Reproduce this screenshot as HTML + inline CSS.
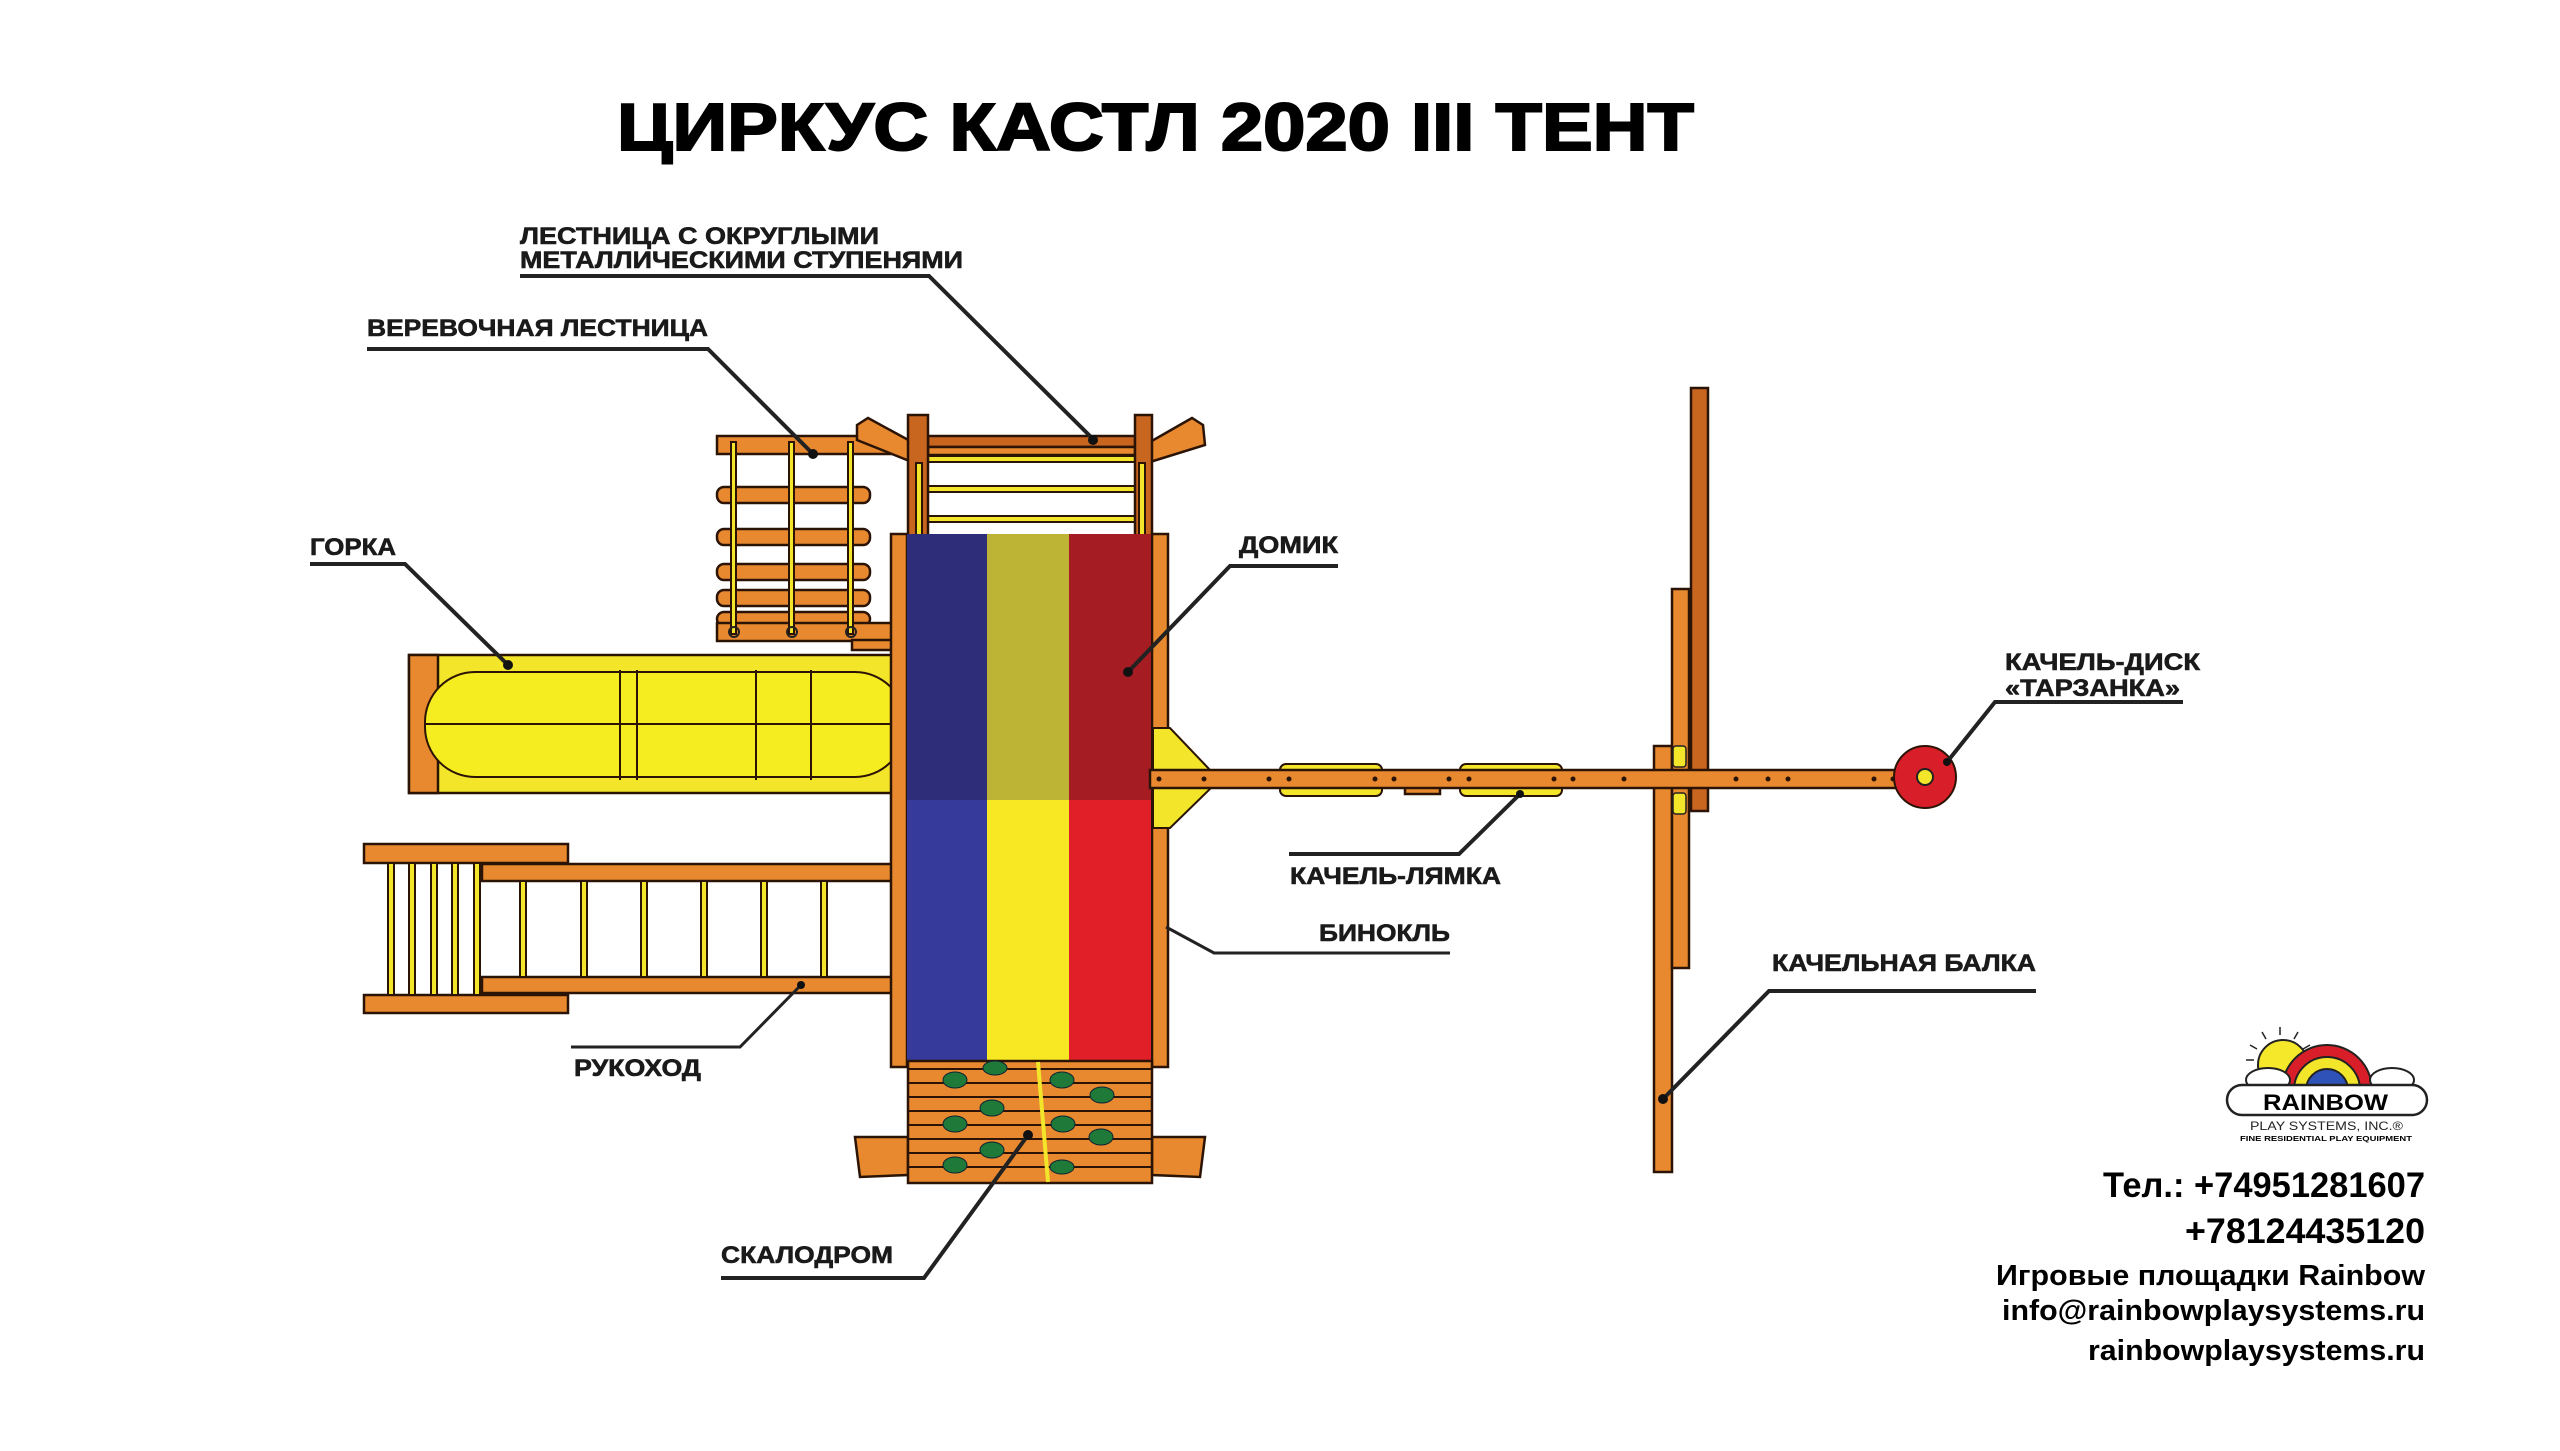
<!DOCTYPE html>
<html><head><meta charset="utf-8"><style>
html,body{margin:0;padding:0;background:#fff;}
svg{display:block;}
.lb{font-family:"Liberation Sans",sans-serif;font-weight:bold;font-size:24px;fill:#1a1a1a;stroke:#1a1a1a;stroke-width:0.6;}
.ct{font-family:"Liberation Sans",sans-serif;font-weight:bold;fill:#000;}
.w{fill:#e8892f;stroke:#2b1405;stroke-width:2.5;}
.wd{fill:#c8651e;stroke:#2b1405;stroke-width:2.5;}
.y{fill:#f2e52a;stroke:#2b1405;stroke-width:2;}
.ll{fill:none;stroke:#222;stroke-width:4;}
</style></head><body>
<svg width="2560" height="1451" viewBox="0 0 2560 1451" xmlns="http://www.w3.org/2000/svg">
<rect width="2560" height="1451" fill="#fff"/>
<!-- Title -->
<text x="617" y="150" class="ct" font-size="67" stroke="#000" stroke-width="2" textLength="1077" lengthAdjust="spacingAndGlyphs">ЦИРКУС КАСТЛ 2020 III ТЕНТ</text>

<!-- top ladder area -->
<rect x="717" y="436" width="180" height="18" class="w"/>
<rect x="928" y="436" width="207" height="11" class="wd"/>
<rect x="928" y="447" width="207" height="8" class="w"/>
<rect x="928" y="456" width="207" height="6" class="y"/>
<rect x="928" y="486" width="207" height="6" class="y"/>
<rect x="928" y="516" width="207" height="6" class="y"/>
<polygon points="857,425 868,418 912,442 912,462 857,440" class="w"/>
<polygon points="1203,425 1192,418 1150,442 1150,462 1205,445" class="w"/>
<rect x="908" y="415" width="20" height="125" class="wd"/>
<rect x="1135" y="415" width="17" height="125" class="wd"/>
<rect x="916" y="463" width="6" height="72" class="y"/>
<rect x="1139" y="463" width="6" height="72" class="y"/>

<!-- rope ladder -->
<rect x="717" y="487" width="153" height="16" rx="7" class="w"/>
<rect x="717" y="529" width="153" height="16" rx="7" class="w"/>
<rect x="717" y="564" width="153" height="16" rx="7" class="w"/>
<rect x="717" y="590" width="153" height="16" rx="7" class="w"/>
<rect x="717" y="612" width="153" height="14" rx="7" class="w"/>
<rect x="717" y="623" width="175" height="18" class="w"/>
<rect x="852" y="640" width="40" height="10" class="w"/>
<rect x="731" y="442" width="5" height="192" class="y"/>
<rect x="789" y="442" width="5" height="192" class="y"/>
<rect x="848" y="442" width="5" height="192" class="y"/>
<g fill="none" stroke="#222" stroke-width="2">
<circle cx="734" cy="632" r="5"/><circle cx="792" cy="632" r="5"/><circle cx="851" cy="632" r="5"/>
</g>

<!-- slide -->
<rect x="409" y="655" width="483" height="138" fill="#f2e52a" stroke="#2b1405" stroke-width="2.5"/>
<rect x="409" y="655" width="29" height="138" class="w"/>
<rect x="425" y="672" width="480" height="105" rx="50" fill="#f5ed1f" stroke="#2b1405" stroke-width="2"/>
<line x1="425" y1="724" x2="892" y2="724" stroke="#2b1405" stroke-width="2"/>
<g stroke="#2b1405" stroke-width="2">
<line x1="620" y1="670" x2="620" y2="780"/><line x1="637" y1="670" x2="637" y2="780"/>
<line x1="756" y1="670" x2="756" y2="780"/><line x1="811" y1="670" x2="811" y2="780"/>
</g>

<!-- monkey bars -->
<rect x="364" y="844" width="204" height="19" class="w"/>
<rect x="364" y="995" width="204" height="18" class="w"/>
<rect x="482" y="864" width="410" height="17" class="w"/>
<rect x="482" y="977" width="410" height="16" class="w"/>
<g class="y">
<rect x="388" y="863" width="6" height="132"/><rect x="409" y="863" width="6" height="132"/><rect x="431" y="863" width="6" height="132"/><rect x="452" y="863" width="6" height="132"/><rect x="474" y="863" width="6" height="132"/>
<rect x="520" y="881" width="6" height="96"/><rect x="581" y="881" width="6" height="96"/><rect x="641" y="881" width="6" height="96"/><rect x="701" y="881" width="6" height="96"/><rect x="761" y="881" width="6" height="96"/><rect x="821" y="881" width="6" height="96"/>
</g>
<rect x="892" y="868" width="13" height="22" fill="#2c4bd0"/>

<!-- house frame -->
<rect x="891" y="534" width="16" height="533" class="w"/>
<rect x="1152" y="534" width="16" height="533" class="w"/>
<rect x="907" y="534" width="80" height="266" fill="#2e2d7a"/>
<rect x="987" y="534" width="82" height="266" fill="#bdb334"/>
<rect x="1069" y="534" width="82" height="266" fill="#a51d22"/>
<rect x="907" y="800" width="80" height="261" fill="#363a9a"/>
<rect x="987" y="800" width="82" height="261" fill="#f7e823"/>
<rect x="1069" y="800" width="82" height="261" fill="#e01f28"/>

<!-- climbing wall -->
<polygon points="855,1137 908,1137 908,1175 860,1177" class="w"/>
<polygon points="1205,1137 1152,1137 1152,1175 1200,1177" class="w"/>
<rect x="908" y="1061" width="244" height="122" class="w"/>
<g stroke="#2b1405" stroke-width="2">
<line x1="908" y1="1069" x2="1152" y2="1069"/><line x1="908" y1="1083" x2="1152" y2="1083"/><line x1="908" y1="1097" x2="1152" y2="1097"/><line x1="908" y1="1111" x2="1152" y2="1111"/><line x1="908" y1="1125" x2="1152" y2="1125"/><line x1="908" y1="1139" x2="1152" y2="1139"/><line x1="908" y1="1153" x2="1152" y2="1153"/><line x1="908" y1="1167" x2="1152" y2="1167"/>
</g>
<g fill="#1f7a3a" stroke="#123" stroke-width="1">
<ellipse cx="955" cy="1080" rx="12" ry="8"/><ellipse cx="995" cy="1068" rx="12" ry="7"/><ellipse cx="1062" cy="1080" rx="12" ry="8"/><ellipse cx="1102" cy="1095" rx="12" ry="8"/>
<ellipse cx="992" cy="1108" rx="12" ry="8"/><ellipse cx="955" cy="1124" rx="12" ry="8"/><ellipse cx="1063" cy="1124" rx="12" ry="8"/><ellipse cx="1101" cy="1137" rx="12" ry="8"/>
<ellipse cx="992" cy="1150" rx="12" ry="8"/><ellipse cx="955" cy="1165" rx="12" ry="8"/><ellipse cx="1062" cy="1167" rx="12" ry="7"/>
</g>
<line x1="1038" y1="1062" x2="1048" y2="1182" stroke="#f2e52a" stroke-width="4"/>

<!-- swing beam + bracket -->
<polygon points="1153,728 1170,728 1211,771 1211,788 1170,828 1153,828" fill="#f2e52a" stroke="#2b1405" stroke-width="2"/>
<rect x="1280" y="764" width="102" height="32" rx="6" class="y"/>
<rect x="1460" y="764" width="102" height="32" rx="6" class="y"/>
<rect x="1405" y="786" width="35" height="8" class="w"/>
<rect x="1654" y="746" width="18" height="426" class="w"/>
<rect x="1672" y="589" width="17" height="379" class="w"/>
<rect x="1691" y="388" width="17" height="423" class="wd"/>
<rect x="1150" y="770" width="791" height="18" class="w"/>
<rect x="1673" y="746" width="13" height="21" rx="3" fill="#f2e52a" stroke="#222" stroke-width="1.5"/>
<rect x="1673" y="793" width="13" height="21" rx="3" fill="#f2e52a" stroke="#222" stroke-width="1.5"/>
<g fill="#2b1405">
<circle cx="1159" cy="779" r="2.5"/><circle cx="1204" cy="779" r="2.5"/><circle cx="1269" cy="779" r="2.5"/><circle cx="1289" cy="779" r="2.5"/><circle cx="1375" cy="779" r="2.5"/><circle cx="1394" cy="779" r="2.5"/><circle cx="1449" cy="779" r="2.5"/><circle cx="1469" cy="779" r="2.5"/><circle cx="1554" cy="779" r="2.5"/><circle cx="1573" cy="779" r="2.5"/><circle cx="1624" cy="779" r="2.5"/><circle cx="1736" cy="779" r="2.5"/><circle cx="1768" cy="779" r="2.5"/><circle cx="1788" cy="779" r="2.5"/><circle cx="1874" cy="779" r="2.5"/><circle cx="1893" cy="779" r="2.5"/>
</g>
<circle cx="1925" cy="777" r="31" fill="#d81e28" stroke="#2b1405" stroke-width="2"/>
<circle cx="1925" cy="777" r="8" fill="#f2e52a" stroke="#222" stroke-width="2"/>

<!-- leader lines -->
<polyline class="ll" points="520,276 929,276 1093,439"/>
<polyline class="ll" points="367,349 708,349 813,454"/>
<polyline class="ll" points="310,564 405,564 508,665"/>
<polyline class="ll" points="1338,566 1230,566 1128,672"/>
<polyline class="ll" points="2183,702 1995,702 1947,762"/>
<polyline class="ll" points="1289,854 1459,854 1520,794"/>
<polyline class="ll" points="1450,953 1214,953 1166,927" style="stroke-width:3"/>
<polyline class="ll" points="2036,991 1769,991 1663,1099"/>
<polyline class="ll" points="571,1047 740,1047 801,985" style="stroke-width:3"/>
<polyline class="ll" points="721,1278 924,1278 1028,1135"/>
<g fill="#111">
<circle cx="1093" cy="440" r="5"/><circle cx="813" cy="454" r="5"/><circle cx="508" cy="665" r="5"/><circle cx="1128" cy="672" r="5"/><circle cx="1520" cy="794" r="4"/><circle cx="1663" cy="1099" r="5"/><circle cx="801" cy="985" r="4"/><circle cx="1028" cy="1135" r="5"/><circle cx="1947" cy="762" r="4"/>
</g>

<!-- labels -->
<text class="lb" x="520" y="244" textLength="359" lengthAdjust="spacingAndGlyphs">ЛЕСТНИЦА С ОКРУГЛЫМИ</text>
<text class="lb" x="520" y="268" textLength="443" lengthAdjust="spacingAndGlyphs">МЕТАЛЛИЧЕСКИМИ СТУПЕНЯМИ</text>
<text class="lb" x="367" y="336" textLength="341" lengthAdjust="spacingAndGlyphs">ВЕРЕВОЧНАЯ ЛЕСТНИЦА</text>
<text class="lb" x="310" y="555" textLength="86" lengthAdjust="spacingAndGlyphs">ГОРКА</text>
<text class="lb" x="1239" y="553" textLength="99" lengthAdjust="spacingAndGlyphs">ДОМИК</text>
<text class="lb" x="2005" y="670" textLength="195" lengthAdjust="spacingAndGlyphs">КАЧЕЛЬ-ДИСК</text>
<text class="lb" x="2005" y="696" textLength="175" lengthAdjust="spacingAndGlyphs">«ТАРЗАНКА»</text>
<text class="lb" x="1290" y="884" textLength="211" lengthAdjust="spacingAndGlyphs">КАЧЕЛЬ-ЛЯМКА</text>
<text class="lb" x="1319" y="941" textLength="131" lengthAdjust="spacingAndGlyphs">БИНОКЛЬ</text>
<text class="lb" x="1772" y="971" textLength="264" lengthAdjust="spacingAndGlyphs">КАЧЕЛЬНАЯ БАЛКА</text>
<text class="lb" x="574" y="1076" textLength="127" lengthAdjust="spacingAndGlyphs">РУКОХОД</text>
<text class="lb" x="721" y="1263" textLength="172" lengthAdjust="spacingAndGlyphs">СКАЛОДРОМ</text>

<!-- logo -->
<g stroke="#222" stroke-width="1.5">
<line x1="2280" y1="1027" x2="2280" y2="1035"/><line x1="2262" y1="1032" x2="2266" y2="1039"/><line x1="2298" y1="1032" x2="2294" y2="1039"/><line x1="2250" y1="1045" x2="2257" y2="1049"/><line x1="2246" y1="1060" x2="2254" y2="1060"/><line x1="2310" y1="1045" x2="2303" y2="1049"/>
</g>
<circle cx="2283" cy="1065" r="25" fill="#f5e82a" stroke="#222" stroke-width="2"/>
<path d="M2282,1090 A45,45 0 0 1 2372,1090 Z" fill="#d81e28" stroke="#222" stroke-width="2"/>
<path d="M2294,1090 A33,33 0 0 1 2360,1090 Z" fill="#f2e52a" stroke="#222" stroke-width="2"/>
<path d="M2306,1090 A21,21 0 0 1 2348,1090 Z" fill="#2e52b8" stroke="#222" stroke-width="2"/>
<ellipse cx="2268" cy="1080" rx="22" ry="12" fill="#fff" stroke="#222" stroke-width="2"/>
<ellipse cx="2392" cy="1080" rx="22" ry="12" fill="#fff" stroke="#222" stroke-width="2"/>
<rect x="2227" y="1085" width="200" height="30" rx="15" fill="#fff" stroke="#222" stroke-width="2.5"/>
<text x="2263" y="1110" class="ct" font-size="22" textLength="125" lengthAdjust="spacingAndGlyphs">RAINBOW</text>
<text x="2250" y="1130" font-family="Liberation Sans,sans-serif" font-size="12" fill="#222" textLength="153" lengthAdjust="spacingAndGlyphs">PLAY SYSTEMS, INC.®</text>
<text x="2240" y="1141" class="ct" font-size="7" textLength="172" lengthAdjust="spacingAndGlyphs">FINE RESIDENTIAL PLAY EQUIPMENT</text>

<!-- contacts -->
<text x="2425" y="1197" class="ct" font-size="35" text-anchor="end" textLength="322" lengthAdjust="spacingAndGlyphs">Тел.: +74951281607</text>
<text x="2425" y="1243" class="ct" font-size="35" text-anchor="end" textLength="240" lengthAdjust="spacingAndGlyphs">+78124435120</text>
<text x="2425" y="1285" class="ct" font-size="29" text-anchor="end" textLength="429" lengthAdjust="spacingAndGlyphs">Игровые площадки Rainbow</text>
<text x="2425" y="1320" class="ct" font-size="29" text-anchor="end" textLength="423" lengthAdjust="spacingAndGlyphs">info@rainbowplaysystems.ru</text>
<text x="2425" y="1360" class="ct" font-size="29" text-anchor="end" textLength="337" lengthAdjust="spacingAndGlyphs">rainbowplaysystems.ru</text>
</svg>
</body></html>
